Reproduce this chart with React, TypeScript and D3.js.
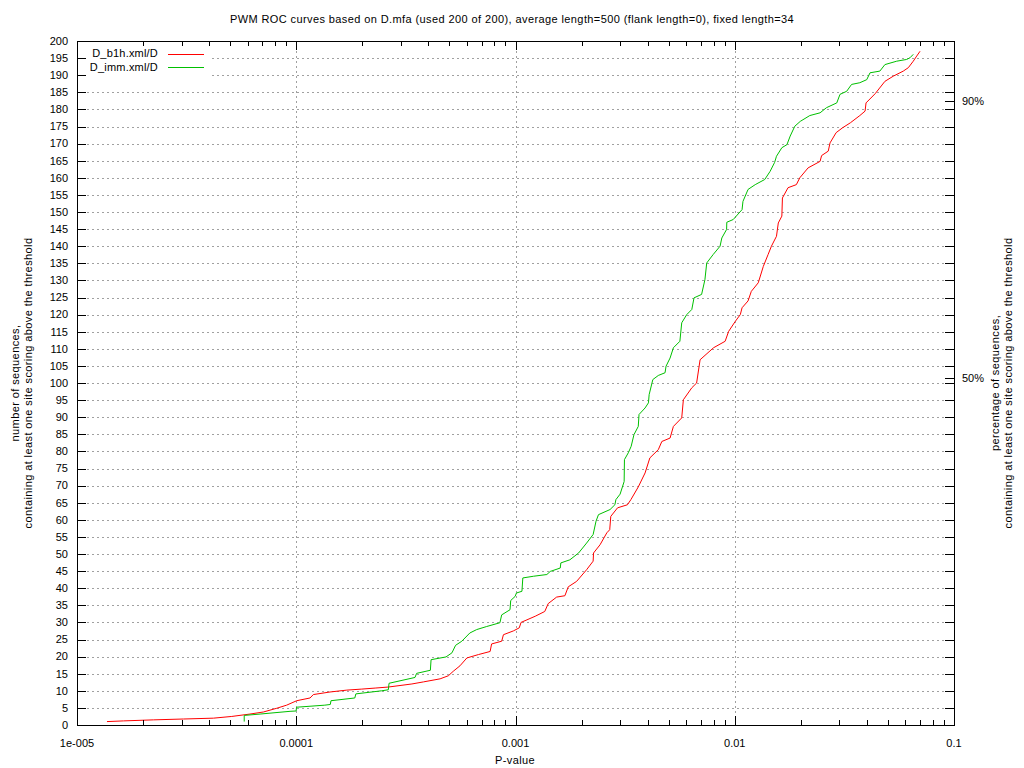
import React from "react";
import * as d3 from "d3";

const title = "PWM ROC curves based on D.mfa (used 200 of 200), average length=500 (flank length=0), fixed length=34";
const xLabel = "P-value";
const yLabelLines = ["number of sequences,", "containing at least one site scoring above the threshold"];
const y2LabelLines = ["percentage of sequences,", "containing at least one site scoring above the threshold"];

const xTickValues = [1e-5, 1e-4, 1e-3, 1e-2, 1e-1];
const xTickLabels = ["1e-005", "0.0001", "0.001", "0.01", "0.1"];
const yTickValues = d3.range(0, 201, 5);
const y2TickValues = [50, 90];
const y2TickLabels = ["50%", "90%"];

const seriesNames = ["D_b1h.xml/D", "D_imm.xml/D"];
const seriesColors = ["#ff0000", "#00c000"];

// [p-value, number of sequences]
const b1hPoints: [number, number][] = [
  [1.37e-5, 1], [1.63e-5, 1.2], [2.23e-5, 1.5], [3.06e-5, 1.75], [4.19e-5, 2.0], [5.08e-5, 2.5],
  [6.15e-5, 3.2], [7.08e-5, 3.8], [8.15e-5, 4.9], [9.04e-5, 5.8], [1.005e-4, 7.1], [1.156e-4, 7.9],
  [1.197e-4, 8.9], [1.426e-4, 9.65], [1.70e-4, 10.2], [1.99e-4, 10.5], [2.29e-4, 10.8], [2.63e-4, 11.1],
  [3.37e-4, 12.0], [3.80e-4, 12.6], [4.53e-4, 13.5], [4.94e-4, 14.4], [5.20e-4, 15.7], [5.58e-4, 17.3],
  [6.00e-4, 19.6], [6.78e-4, 20.6], [7.66e-4, 21.5], [7.78e-4, 23.7], [8.65e-4, 24.5], [8.81e-4, 26.4],
  [9.77e-4, 27.5], [1.04e-3, 28.4], [1.06e-3, 30.0], [1.23e-3, 31.8], [1.36e-3, 33.2], [1.41e-3, 35.5],
  [1.54e-3, 37.4], [1.68e-3, 37.8], [1.74e-3, 40.4], [1.90e-3, 42.0], [2.11e-3, 45.4], [2.26e-3, 47.9],
  [2.27e-3, 50.3], [2.43e-3, 52.7], [2.61e-3, 56.2], [2.69e-3, 57.1], [2.72e-3, 61.0], [2.92e-3, 63.5],
  [3.24e-3, 64.4], [3.36e-3, 65.9], [3.63e-3, 69.6], [3.90e-3, 73.7], [4.10e-3, 78.1], [4.48e-3, 80.5],
  [4.65e-3, 82.9], [5.07e-3, 83.9], [5.25e-3, 87.3], [5.73e-3, 89.8], [5.83e-3, 95.1], [6.37e-3, 98.6],
  [6.70e-3, 100.0], [6.95e-3, 106.8], [8.00e-3, 110.3], [9.04e-3, 112.2], [9.38e-3, 115.1], [1.005e-2, 118.0],
  [1.06e-2, 120.0], [1.08e-2, 122.0], [1.15e-2, 124.0], [1.19e-2, 126.8], [1.28e-2, 129.3], [1.35e-2, 134.1],
  [1.42e-2, 137.6], [1.47e-2, 140.0], [1.55e-2, 142.9], [1.58e-2, 146.8], [1.64e-2, 148.8], [1.65e-2, 154.1],
  [1.75e-2, 157.1], [1.91e-2, 158.0], [1.98e-2, 160.0], [2.16e-2, 162.9], [2.45e-2, 164.8], [2.49e-2, 166.5],
  [2.67e-2, 167.8], [2.72e-2, 170.2], [2.90e-2, 173.2], [3.10e-2, 174.6], [3.37e-2, 176.1], [3.72e-2, 178.2],
  [3.93e-2, 179.5], [3.97e-2, 181.9], [4.37e-2, 184.6], [4.84e-2, 188.2], [5.28e-2, 189.7], [5.87e-2, 191.2],
  [6.19e-2, 192.2], [6.52e-2, 194.1], [6.76e-2, 195.6], [7.00e-2, 197.0],
];

const immPoints: [number, number][] = [
  [5.79e-5, 1], [5.79e-5, 2.8], [6.84e-5, 3.2], [9.37e-5, 4.0], [9.99e-5, 4.1], [1.003e-4, 5.2],
  [1.35e-4, 5.8], [1.43e-4, 6.0], [1.44e-4, 7.1], [1.85e-4, 7.9], [1.87e-4, 9.1], [2.45e-4, 10.0],
  [2.63e-4, 10.3], [2.65e-4, 12.2], [3.48e-4, 13.9], [3.54e-4, 15.1], [4.09e-4, 16.0], [4.12e-4, 19.1],
  [4.82e-4, 19.9], [5.13e-4, 21.1], [5.33e-4, 23.3], [5.69e-4, 24.5], [6.19e-4, 26.9], [6.65e-4, 27.9],
  [7.39e-4, 28.8], [8.49e-4, 29.9], [8.65e-4, 32.2], [9.44e-4, 33.7], [9.51e-4, 36.4], [9.96e-4, 37.6],
  [1.01e-3, 38.6], [1.07e-3, 39.1], [1.08e-3, 43.0], [1.21e-3, 43.5], [1.39e-3, 44.0], [1.44e-3, 44.9],
  [1.60e-3, 45.9], [1.61e-3, 47.4], [1.77e-3, 48.3], [1.94e-3, 50.3], [2.11e-3, 53.2], [2.26e-3, 55.7],
  [2.33e-3, 59.6], [2.39e-3, 61.5], [2.70e-3, 63.0], [2.84e-3, 64.4], [2.87e-3, 65.9], [3.00e-3, 67.5],
  [3.13e-3, 71.2], [3.14e-3, 77.6], [3.27e-3, 79.6], [3.37e-3, 81.5], [3.47e-3, 84.9], [3.63e-3, 87.3],
  [3.66e-3, 90.8], [3.90e-3, 92.7], [4.04e-3, 94.2], [4.07e-3, 96.6], [4.23e-3, 101.0], [4.48e-3, 102.2],
  [4.81e-3, 103.0], [4.86e-3, 104.9], [5.07e-3, 107.3], [5.25e-3, 110.3], [5.62e-3, 112.2], [5.73e-3, 117.6],
  [6.04e-3, 120.0], [6.37e-3, 121.5], [6.52e-3, 124.9], [7.06e-3, 125.9], [7.31e-3, 130.2], [7.45e-3, 135.1],
  [7.98e-3, 137.6], [8.57e-3, 140.0], [8.73e-3, 142.4], [9.18e-3, 144.9], [9.20e-3, 147.0], [9.84e-3, 147.8],
  [1.08e-2, 150.7], [1.09e-2, 153.1], [1.15e-2, 156.6], [1.24e-2, 158.0], [1.37e-2, 159.5], [1.45e-2, 161.9],
  [1.52e-2, 164.5], [1.55e-2, 166.3], [1.64e-2, 168.8], [1.73e-2, 169.7], [1.79e-2, 172.2], [1.88e-2, 175.1],
  [1.99e-2, 176.5], [2.20e-2, 178.2], [2.45e-2, 179.0], [2.62e-2, 180.5], [2.92e-2, 181.9], [3.02e-2, 184.4],
  [3.24e-2, 185.3], [3.41e-2, 187.3], [3.72e-2, 187.8], [4.00e-2, 188.7], [4.14e-2, 190.7], [4.59e-2, 191.2],
  [4.84e-2, 193.1], [5.48e-2, 194.1], [6.08e-2, 194.6], [6.30e-2, 195.1], [6.52e-2, 196.1],
];

const seriesData = [b1hPoints, immPoints];

const W = 1024;
const H = 768;
const L = 77;
const R = 954;
const T = 41;
const B = 725;
const FONT = "'Liberation Sans', Arial, sans-serif";

export default function App() {
  const x = d3.scaleLog().domain([1e-5, 0.1]).range([L, R]);
  const y = d3.scaleLinear().domain([0, 200]).range([B, T]);
  const y2 = d3.scaleLinear().domain([0, 98.6]).range([B, T]);
  const line = d3
    .line<[number, number]>()
    .x((d) => x(d[0]))
    .y((d) => y(d[1]));

  const minorTicks: number[] = [];
  for (let e = -5; e < -1; e++) {
    for (let m = 2; m <= 9; m++) minorTicks.push(m * Math.pow(10, e));
  }

  const px = (v: number) => Math.round(v) + 0.5;
  const grid = "#a0a0a0";
  const ls = 0.4;

  return (
    <svg
      width={W}
      height={H}
      style={{ position: "absolute", left: 0, top: 0, background: "#fff" }}
      fontFamily={FONT}
      fontSize={11}
    >
      <rect x={0} y={0} width={W} height={H} fill="#fff" />
      {/* grid */}
      <g stroke={grid} strokeWidth={1} strokeDasharray="2,3" shapeRendering="crispEdges">
        {yTickValues
          .filter((v) => v > 0 && v < 200)
          .map((v) => (
            <line key={"gy" + v} x1={L} x2={R} y1={px(y(v))} y2={px(y(v))} />
          ))}
        {xTickValues.slice(1, -1).map((v) => (
          <line key={"gx" + v} x1={px(x(v))} x2={px(x(v))} y1={T} y2={B} />
        ))}
      </g>

      {/* legend background */}
      <rect x={L + 1} y={T + 3} width={131} height={36} fill="#fff" />

      {/* curves */}
      {seriesData.map((d, i) => (
        <path key={"s" + i} d={line(d) || ""} fill="none" stroke={seriesColors[i]} strokeWidth={1} />
      ))}

      {/* ticks */}
      <g stroke="#000" strokeWidth={1} shapeRendering="crispEdges">
        {yTickValues.map((v) => (
          <g key={"ty" + v}>
            <line x1={L} x2={L + 9} y1={px(y(v))} y2={px(y(v))} />
            <line x1={R - 9} x2={R} y1={px(y(v))} y2={px(y(v))} />
          </g>
        ))}
        {y2TickValues.map((v) => (
          <line key={"ty2" + v} x1={R - 9} x2={R} y1={px(y2(v))} y2={px(y2(v))} />
        ))}
        {xTickValues.map((v) => (
          <g key={"tx" + v}>
            <line x1={px(x(v))} x2={px(x(v))} y1={B} y2={B - 9} />
            <line x1={px(x(v))} x2={px(x(v))} y1={T} y2={T + 9} />
          </g>
        ))}
        {minorTicks.map((v) => (
          <g key={"mx" + v}>
            <line x1={px(x(v))} x2={px(x(v))} y1={B} y2={B - 5} />
            <line x1={px(x(v))} x2={px(x(v))} y1={T} y2={T + 5} />
          </g>
        ))}
        <rect x={L + 0.5} y={T + 0.5} width={R - L} height={B - T} fill="none" />
      </g>

      {/* tick labels */}
      <g fill="#000">
        {yTickValues.map((v) => (
          <text key={"ly" + v} x={L - 9} y={y(v)} dy="0.35em" textAnchor="end">
            {v}
          </text>
        ))}
        {xTickValues.map((v, i) => (
          <text key={"lx" + v} x={x(v)} y={B + 18} dy="0.35em" textAnchor="middle">
            {xTickLabels[i]}
          </text>
        ))}
        {y2TickValues.map((v, i) => (
          <text key={"ly2" + v} x={R + 8} y={y2(v)} dy="0.35em" textAnchor="start">
            {y2TickLabels[i]}
          </text>
        ))}
      </g>

      {/* legend */}
      {seriesNames.map((n, i) => (
        <g key={"lg" + i}>
          <text x={158} y={53.5 + i * 13.5} dy="0.35em" textAnchor="end" letterSpacing={0.2}>
            {n}
          </text>
          <line
            x1={168}
            x2={204}
            y1={54.5 + i * 13}
            y2={54.5 + i * 13}
            stroke={seriesColors[i]}
            strokeWidth={1.2}
          />
        </g>
      ))}

      {/* titles */}
      <text x={512} y={19} dy="0.35em" textAnchor="middle" letterSpacing={ls}>
        {title}
      </text>
      <text x={515} y={760} dy="0.35em" textAnchor="middle" letterSpacing={ls}>
        {xLabel}
      </text>
      {yLabelLines.map((t, i) => (
        <text
          key={"yl" + i}
          transform={`translate(${15 + i * 13},${383}) rotate(-90)`}
          dy="0.35em"
          textAnchor="middle"
          letterSpacing={ls}
        >
          {t}
        </text>
      ))}
      {y2LabelLines.map((t, i) => (
        <text
          key={"y2l" + i}
          transform={`translate(${995 + i * 13},${383}) rotate(-90)`}
          dy="0.35em"
          textAnchor="middle"
          letterSpacing={ls}
        >
          {t}
        </text>
      ))}
    </svg>
  );
}
